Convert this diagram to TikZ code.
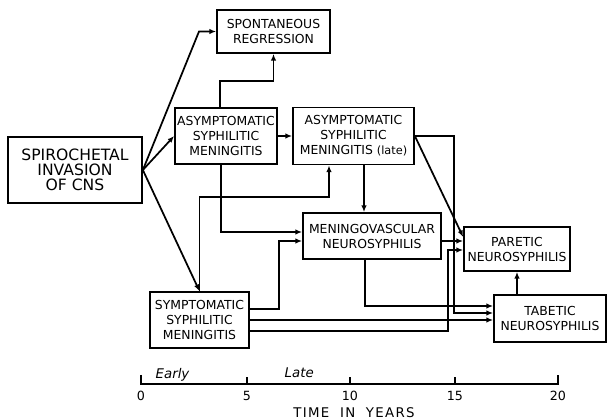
\documentclass[tikz,border=0pt]{standalone}
\usepackage{fontspec}
\setmainfont{DejaVu Sans}
\newfontfamily\axisfont[LetterSpace=10]{DejaVu Sans}
\usetikzlibrary{arrows.meta,calc}
\tikzset{
  box/.style={draw, line width=1.3pt, inner sep=0pt, align=center,
    font=\fontsize{9.3}{11.25}\selectfont},
  conn/.style={line width=1.3pt, -{Latex[length=5pt,width=4pt]}},
  axisline/.style={line width=1.3pt},
  axlab/.style={anchor=base, font=\fontsize{9.5}{11}\selectfont},
  era/.style={anchor=base west, font=\itshape\fontsize{10}{12}\selectfont},
}
\begin{document}
\begin{tikzpicture}[x=0.75pt,y=-0.75pt]
\useasboundingbox (0,0) rectangle (608,420);
% boxes
\node[box,minimum width=100.5pt,minimum height=49.5pt,
      font=\fontsize{11.7}{11.25}\selectfont] (spir) at (75,170) {SPIROCHETAL\\INVASION\\OF CNS};
\node[box,minimum width=84.75pt,minimum height=32.25pt] (spon) at (273.5,31.5) {SPONTANEOUS\\REGRESSION};
\node[box,minimum width=76.5pt,minimum height=42pt] (asm) at (226,136) {ASYMPTOMATIC\\SYPHILITIC\\MENINGITIS};
\node[box,minimum width=90.75pt,minimum height=42.75pt] (asml) at (353.5,136) {ASYMPTOMATIC\\SYPHILITIC\\MENINGITIS {\fontsize{8.5}{10}\selectfont(late)}};
\node[box,minimum width=103.5pt,minimum height=34.5pt] (mv) at (372,236) {MENINGOVASCULAR\\NEUROSYPHILIS};
\node[box,minimum width=79.5pt,minimum height=33pt] (par) at (517,249) {PARETIC\\NEUROSYPHILIS};
\node[box,minimum width=84pt,minimum height=35.25pt] (tab) at (550,318.5) {TABETIC\\NEUROSYPHILIS};
\node[box,minimum width=74.25pt,minimum height=42pt] (sym) at (199.5,320) {SYMPTOMATIC\\SYPHILITIC\\MENINGITIS};
% connectors
\draw[conn] (spir.east) -- (199,31.5) -- (spon.west);
\draw[conn] (spir.east) -- (asm.west);
\draw[conn] (spir.east) -- (sym.north);
\draw[conn] ($(asm.north)+(-6,0)$) -- ++(0,-26) -| (spon.south);
\draw[conn] (asm.east) -- (asml.west);
\draw[conn] ($(asm.south)+(-5,0)$) |- ($(mv.west)+(0,-4)$);
\draw[conn] (sym.north) |- (329,197) -- ($(asml.south)+(-24.5,0)$);
\draw[conn] ($(asml.south)+(10.5,0)$) -- ($(mv.north)+(-8,0)$);
\draw[conn] (asml.east) -| (454,313) -- ($(tab.west)+(0,-5.5)$);
\draw[conn] (asml.east) -- ($(par.west)+(0,-12)$);
\draw[conn] ($(mv.east)+(0,5)$) -- ($(par.west)+(0,-8)$);
\draw[conn] ($(mv.south)+(-7,0)$) |- ($(tab.west)+(0,-12.5)$);
\draw[conn] ($(sym.east)+(0,-11)$) -| (279,241) -- ($(mv.west)+(0,5)$);
\draw[conn] (sym.east) -- (sym.east -| tab.west);
\draw[conn] ($(sym.east)+(0,11)$) -| (448,250) -- ($(par.west)+(0,1)$);
\draw[conn] (par.south |- tab.north) -- (par.south);
% time axis
\coordinate (t0) at (141,384);
\coordinate (t5) at (247,384);
\coordinate (t10) at (350,384);
\coordinate (t15) at (455,384);
\coordinate (t20) at (558,384);
\draw[axisline] ($(t0)+(0,-9)$) -- (t0) -- (t20) -- ($(t20)+(0,-9)$);
\draw[axisline] (t5) -- ++(0,-7);
\draw[axisline] (t10) -- ++(0,-7);
\draw[axisline] (t15) -- ++(0,-7);
\node[axlab] (l0) at ($(t0)+(0,17)$) {0};
\node[axlab] (l5) at ($(t5)+(0,17)$) {5};
\node[axlab] (l10) at ($(t10)+(0,17)$) {10};
\node[axlab] (l15) at ($(t15)+(0,17)$) {15};
\node[axlab] (l20) at ($(t20)+(0,17)$) {20};
\node[era] (early) at (151,379) {Early};
\node[era] (late) at (280,378) {Late};
\node[anchor=base, font={\axisfont\fontsize{10}{12}\selectfont}] (title) at (354,418) {TIME\hspace{0.8em}IN\hspace{0.8em}YEARS};
\end{tikzpicture}
\end{document}
